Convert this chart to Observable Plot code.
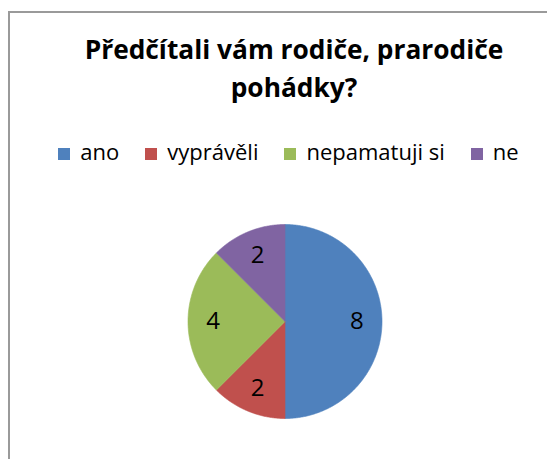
<!DOCTYPE html>
<html><head><meta charset="utf-8">
<script src="https://cdn.jsdelivr.net/npm/d3@7"></script>
<script src="https://cdn.jsdelivr.net/npm/@observablehq/plot@0.6"></script>
<style>
body{margin:0;background:#fff;}
#wrap{position:relative;width:547px;height:459px;overflow:hidden;font-family:"Open Sans",sans-serif;color:#000;}
#frame{position:absolute;left:8px;top:11px;width:700px;height:600px;border-left:2px solid #9a9a9a;border-top:2px solid #9a9a9a;}
#title{position:absolute;left:0;top:30px;width:588px;text-align:center;font-weight:700;font-size:26.3px;line-height:38px;}
#legend{position:absolute;left:0;top:139px;width:577px;display:flex;justify-content:center;align-items:baseline;font-size:22px;line-height:24px;}
#legend .item{display:flex;align-items:baseline;margin:0 13px;}
#legend .sw{display:inline-block;width:12px;height:12px;margin-right:10px;}
#chart svg{position:absolute;left:0;top:0;}
</style></head>
<body>
<div id="wrap">
  <div id="frame"></div>
  <div id="title">Předčítali vám rodiče, prarodiče<br>pohádky?</div>
  <div id="legend"></div>
  <div id="chart"></div>
</div>
<script>
const categories = ["ano", "vyprávěli", "nepamatuji si", "ne"];
const values = [8, 2, 4, 2];
const colors = ["#4F81BD", "#C0504D", "#9BBB59", "#8064A2"];

const rows = categories.map((c, i) => ({cat: c, value: values[i]}));
const arcs = d3.pie().sort(null).value(d => d.value)(rows);

const pts = [];
arcs.forEach(a => {
  const cat = a.data.cat;
  pts.push({cat, x: 0, y: 0});
  const n = Math.max(2, Math.ceil((a.endAngle - a.startAngle) / 0.01));
  for (let k = 0; k <= n; k++) {
    const t = a.startAngle + (a.endAngle - a.startAngle) * k / n;
    pts.push({cat, x: Math.sin(t), y: Math.cos(t)});
  }
  pts.push({cat, x: 0, y: 0});
});
const lr = 0.74;
const labels = arcs.map(a => {
  const m = (a.startAngle + a.endAngle) / 2;
  return {text: String(a.data.value), x: lr * Math.sin(m), y: lr * Math.cos(m)};
});

const cx = 284.5, cy = 321, r = 97;
const plot = Plot.plot({
  width: 547, height: 459, margin: 0,
  style: {background: "transparent", fontFamily: "'Open Sans', sans-serif"},
  x: {domain: [-1, 1], range: [cx - r, cx + r], axis: null},
  y: {domain: [-1, 1], range: [cy + r, cy - r], axis: null},
  color: {domain: categories, range: colors},
  marks: [
    Plot.line(pts, {x: "x", y: "y", z: "cat", fill: "cat", stroke: "cat", strokeWidth: 0.6, curve: "linear"}),
    Plot.text(labels, {x: "x", y: "y", text: "text", fontSize: 24, fill: "#000"})
  ]
});
document.getElementById("chart").appendChild(plot);

const leg = document.getElementById("legend");
categories.forEach((c, i) => {
  const it = document.createElement("div");
  it.className = "item";
  const sw = document.createElement("span");
  sw.className = "sw";
  sw.style.background = colors[i];
  const tx = document.createElement("span");
  tx.textContent = c;
  it.appendChild(sw); it.appendChild(tx);
  leg.appendChild(it);
});
</script>
</body></html>
